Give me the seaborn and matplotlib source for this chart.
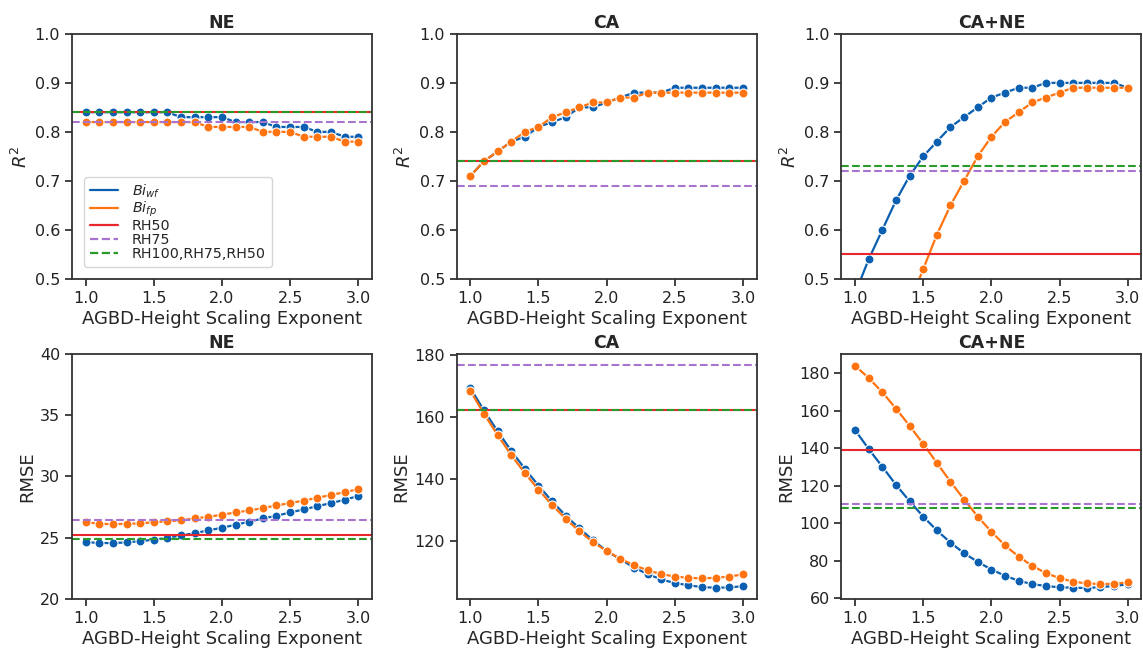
import numpy as np
import pandas as pd
import matplotlib
matplotlib.use("Agg")
import matplotlib.pyplot as plt
from matplotlib.lines import Line2D
import seaborn as sns

# AGBD-height scaling exponents
exponents = [1.0, 1.1, 1.2, 1.3, 1.4, 1.5, 1.6, 1.7, 1.8, 1.9, 2.0,
             2.1, 2.2, 2.3, 2.4, 2.5, 2.6, 2.7, 2.8, 2.9, 3.0]

# R^2 per region
r2_ne_wf = [0.84, 0.84, 0.84, 0.84, 0.84, 0.84, 0.84, 0.83, 0.83, 0.83, 0.83,
            0.82, 0.82, 0.82, 0.81, 0.81, 0.81, 0.80, 0.80, 0.79, 0.79]
r2_ne_fp = [0.82, 0.82, 0.82, 0.82, 0.82, 0.82, 0.82, 0.82, 0.82, 0.81, 0.81,
            0.81, 0.81, 0.80, 0.80, 0.80, 0.79, 0.79, 0.79, 0.78, 0.78]
r2_ca_wf = [0.71, 0.74, 0.76, 0.78, 0.79, 0.81, 0.82, 0.83, 0.85, 0.85, 0.86,
            0.87, 0.88, 0.88, 0.88, 0.89, 0.89, 0.89, 0.89, 0.89, 0.89]
r2_ca_fp = [0.71, 0.74, 0.76, 0.78, 0.80, 0.81, 0.83, 0.84, 0.85, 0.86, 0.86,
            0.87, 0.87, 0.88, 0.88, 0.88, 0.88, 0.88, 0.88, 0.88, 0.88]
r2_cane_wf = [0.47, 0.54, 0.60, 0.66, 0.71, 0.75, 0.78, 0.81, 0.83, 0.85, 0.87,
              0.88, 0.89, 0.89, 0.90, 0.90, 0.90, 0.90, 0.90, 0.90, 0.89]
r2_cane_fp = [0.17, 0.24, 0.31, 0.38, 0.45, 0.52, 0.59, 0.65, 0.70, 0.75, 0.79,
              0.82, 0.84, 0.86, 0.87, 0.88, 0.89, 0.89, 0.89, 0.89, 0.89]

# RMSE per region
rmse_ne_wf = [24.64, 24.56, 24.56, 24.61, 24.72, 24.83, 24.99, 25.18, 25.37, 25.59, 25.81,
              26.05, 26.30, 26.57, 26.78, 27.06, 27.30, 27.57, 27.82, 28.09, 28.40]
rmse_ne_fp = [26.27, 26.13, 26.10, 26.13, 26.16, 26.27, 26.32, 26.43, 26.57, 26.70, 26.87,
              27.06, 27.22, 27.41, 27.63, 27.82, 28.03, 28.25, 28.49, 28.71, 28.96]
rmse_ca_wf = [169.4, 162.2, 155.5, 149.2, 143.4, 138.0, 132.9, 128.3, 124.2, 120.4, 116.9,
              114.3, 111.6, 109.5, 107.8, 106.6, 105.9, 105.3, 105.1, 105.2, 105.6]
rmse_ca_fp = [168.5, 161.1, 154.3, 147.8, 142.0, 136.7, 131.7, 127.3, 123.3, 119.8, 116.9,
              114.4, 112.4, 110.7, 109.5, 108.7, 108.3, 108.1, 108.3, 108.7, 109.4]
rmse_cane_wf = [149.7, 139.6, 130.1, 120.5, 111.7, 103.5, 96.1, 89.6, 83.9, 79.3, 75.2,
                71.9, 69.2, 67.4, 66.4, 65.7, 65.5, 65.3, 65.8, 66.4, 67.3]
rmse_cane_fp = [184.1, 177.5, 169.9, 161.2, 152.0, 142.3, 132.2, 122.1, 112.6, 103.5, 95.4,
                88.1, 82.1, 77.2, 73.3, 70.6, 68.7, 67.8, 67.4, 67.6, 68.3]

# Reference RH-metric models: RH50, RH75, RH100+RH75+RH50
r2_ref = {"NE": [0.84, 0.82, 0.84], "CA": [0.74, 0.69, 0.74], "CA+NE": [0.55, 0.72, 0.73]}
rmse_ref = {"NE": [25.2, 26.45, 24.85], "CA": [162.3, 176.7, 162.3], "CA+NE": [138.9, 110.3, 108.0]}

regions = ["NE", "CA", "CA+NE"]
series_labels = ["$Bi_{wf}$", "$Bi_{fp}$"]
ref_labels = ["RH50", "RH75", "RH100,RH75,RH50"]

r2_data = {"NE": (r2_ne_wf, r2_ne_fp), "CA": (r2_ca_wf, r2_ca_fp),
           "CA+NE": (r2_cane_wf, r2_cane_fp)}
rmse_data = {"NE": (rmse_ne_wf, rmse_ne_fp), "CA": (rmse_ca_wf, rmse_ca_fp),
             "CA+NE": (rmse_cane_wf, rmse_cane_fp)}

series_colors = ["#0a5fb0", "#ff7410"]
ref_colors = ["#e8262b", "#a874d0", "#2a9a2a"]
ref_styles = ["-", "--", "--"]

sns.set_style("ticks")
plt.rcParams.update({
    "axes.edgecolor": "#333333",
    "axes.linewidth": 1.3,
    "xtick.color": "#222222",
    "ytick.color": "#222222",
    "xtick.major.size": 5,
    "ytick.major.size": 5,
    "xtick.major.width": 1.2,
    "ytick.major.width": 1.2,
    "font.size": 11,
})
plt.rcParams["font.family"] = ["DejaVu Sans"]

fig, axes = plt.subplots(2, 3, figsize=(11.43, 6.51), dpi=100)
fig.subplots_adjust(left=0.063, right=0.9985, top=0.948, bottom=0.080,
                    wspace=0.283, hspace=0.306)


def draw_panel(ax, wf, fp, refs, ylabel):
    df = pd.DataFrame({
        "exponent": exponents * 2,
        "value": list(wf) + list(fp),
        "model": [series_labels[0]] * len(wf) + [series_labels[1]] * len(fp),
    })
    sns.lineplot(data=df, x="exponent", y="value", hue="model",
                 palette=series_colors, marker="o", markersize=6.5,
                 linewidth=1.6, markeredgecolor="white", markeredgewidth=0.8,
                 legend=False, ax=ax)
    for val, col, ls in zip(refs, ref_colors, ref_styles):
        ax.axhline(val, color=col, linestyle=ls, linewidth=1.5)
    ax.set_xlabel("AGBD-Height Scaling Exponent", fontsize=13, labelpad=3)
    ax.set_ylabel(ylabel, fontsize=13, labelpad=3)
    ax.set_xlim(0.9, 3.1)
    ax.set_xticks([1.0, 1.5, 2.0, 2.5, 3.0])
    ax.tick_params(labelsize=11.5)
    for s in ax.spines.values():
        s.set_visible(True)


for j, reg in enumerate(regions):
    ax = axes[0, j]
    draw_panel(ax, *r2_data[reg], r2_ref[reg], "$R^2$")
    ax.set_ylim(0.5, 1.0)
    ax.set_yticks([0.5, 0.6, 0.7, 0.8, 0.9, 1.0])
    ax.set_title(reg, fontweight="bold", fontsize=12.5, pad=4)

    ax = axes[1, j]
    draw_panel(ax, *rmse_data[reg], rmse_ref[reg], "RMSE")
    ax.set_title(reg, fontweight="bold", fontsize=12.5, pad=4)

axes[1, 0].set_ylim(20, 40)
axes[1, 0].set_yticks([20, 25, 30, 35, 40])
axes[1, 1].set_ylim(101.5, 180.4)
axes[1, 1].set_yticks([120, 140, 160, 180])
axes[1, 2].set_ylim(59.5, 190.4)
axes[1, 2].set_yticks([60, 80, 100, 120, 140, 160, 180])

handles = [Line2D([], [], color=c, lw=1.6) for c in series_colors]
handles += [Line2D([], [], color=c, ls=ls, lw=1.6) for c, ls in zip(ref_colors, ref_styles)]
axes[0, 0].legend(handles, series_labels + ref_labels, loc="lower left",
                  bbox_to_anchor=(0.04, 0.049), borderaxespad=0.0, fontsize=10.3,
                  frameon=True, handlelength=2.0, labelspacing=0.0,
                  borderpad=0.4, handletextpad=0.95)

fig.savefig("out.png", dpi=100)
